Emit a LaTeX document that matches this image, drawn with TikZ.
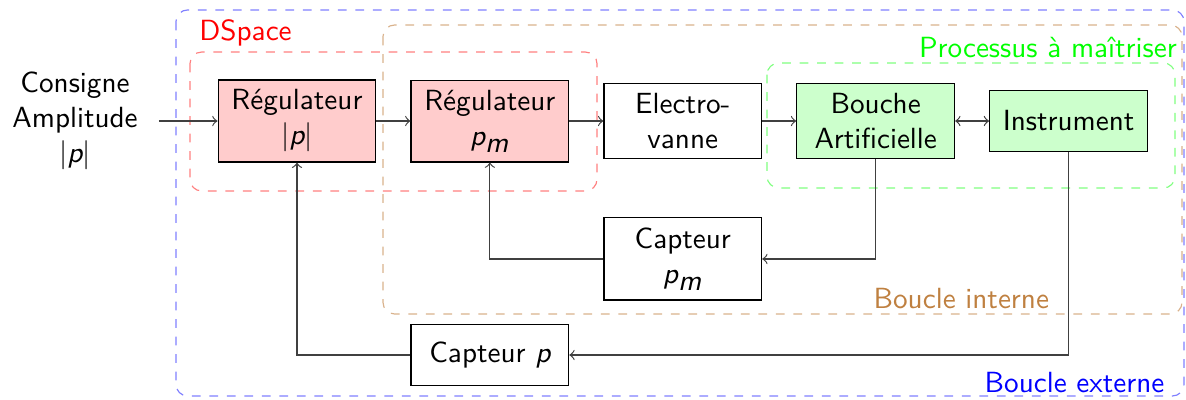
\documentclass[tikz,border=0pt]{standalone}
\usepackage{tikz}
\usetikzlibrary{positioning,calc}

\begin{document}
\begin{tikzpicture}[font=\sffamily,node distance=0.41cm,
  bloc/.style={draw,minimum width=1.9cm,minimum height=0.74cm,align=center},
  regul/.style={bloc,fill=red!20},
  procs/.style={bloc,fill=green!20},
  lien/.style={black!75},
  zone/.style={dashed,rounded corners}]
\useasboundingbox (0,0) rectangle (14.289,-4.819);
% blocs
\node[regul] (regp) at (3.578,-1.458) {Régulateur\\$|\textit{p}|$};
\node[regul,right=of regp] (regpm) {Régulateur\\$\textit{p}_{\textit{m}}$};
\node[bloc,right=of regpm] (ev) {Electro-\\vanne};
\node[procs,right=of ev] (bouche) {Bouche\\Artificielle};
\node[procs,right=of bouche] (instr) {Instrument};
\node[bloc] (captpm) at (ev |- 0,-3.12) {Capteur\\$\textit{p}_{\textit{m}}$};
\node[bloc] (captp) at (regpm |- 0,-4.277) {Capteur $\textit{p}$};
\node[align=center] (consigne) at (0.904,-1.458) {Consigne\\Amplitude\\$|\textit{p}|$};
% zones
\draw[zone,blue!50] (2.120,-0.120) rectangle (14.265,-4.771);
\draw[zone,brown!60] (4.614,-0.301) rectangle (14.241,-3.783);
\draw[zone,red!50] (2.289,-0.627) rectangle (7.193,-2.301);
\draw[zone,green!50] (9.241,-0.759) rectangle (14.157,-2.265);
\node[red,anchor=south west,inner sep=1pt] (dspace) at (2.36,-0.60) {DSpace};
\node[green,anchor=south east,inner sep=1pt] (procl) at (14.22,-0.74) {Processus à maîtriser};
\node[brown,anchor=south east,inner sep=1pt] (intl) at (12.68,-3.76) {Boucle interne};
\node[blue,anchor=south east,inner sep=1pt] (extl) at (14.07,-4.77) {Boucle externe};
% liaisons
\draw[lien,->,shorten <=0.13cm] (consigne) -- (regp);
\draw[lien,->] (regp) -- (regpm);
\draw[lien,->] (regpm) -- (ev);
\draw[lien,->] (ev) -- (bouche);
\draw[lien,<->] (bouche) -- (instr);
\draw[lien,->] (bouche) |- (captpm);
\draw[lien,->] (captpm) -| (regpm);
\draw[lien,->] (instr) |- (captp);
\draw[lien,->] (captp) -| (regp);
\end{tikzpicture}
\end{document}
